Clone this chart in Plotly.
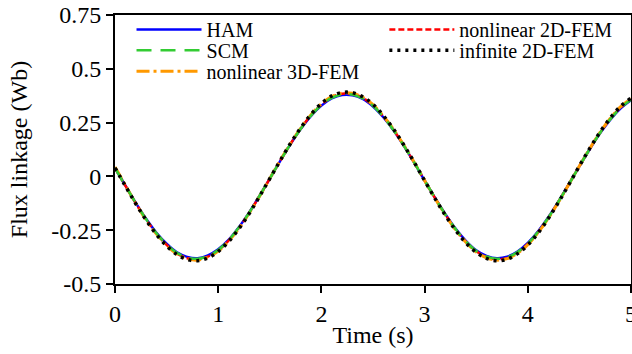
import plotly.graph_objects as go

time_s = [0.0, 0.1, 0.2, 0.3, 0.4, 0.5, 0.6, 0.7, 0.8, 0.9,
          1.0, 1.1, 1.2, 1.3, 1.4, 1.5, 1.6, 1.7, 1.8, 1.9,
          2.0, 2.1, 2.2, 2.3, 2.4, 2.5, 2.6, 2.7, 2.8, 2.9,
          3.0, 3.1, 3.2, 3.3, 3.4, 3.5, 3.6, 3.7, 3.8, 3.9,
          4.0, 4.1, 4.2, 4.3, 4.4, 4.5, 4.6, 4.7, 4.8, 4.9, 5.0]

ham = [0.038, -0.042, -0.122, -0.196, -0.261, -0.313, -0.353, -0.374, -0.380, -0.367,
       -0.339, -0.295, -0.236, -0.167, -0.091, -0.010, 0.071, 0.149, 0.220, 0.281,
       0.329, 0.362, 0.378, 0.377, 0.360, 0.325, 0.275, 0.213, 0.141, 0.063,
       -0.019, -0.099, -0.174, -0.242, -0.299, -0.343, -0.369, -0.380, -0.373, -0.349,
       -0.309, -0.255, -0.189, -0.114, -0.034, 0.047, 0.126, 0.200, 0.264, 0.316, 0.354]

scm = [0.039, -0.043, -0.123, -0.198, -0.263, -0.316, -0.355, -0.377, -0.383, -0.370,
       -0.342, -0.297, -0.238, -0.169, -0.091, -0.010, 0.071, 0.150, 0.221, 0.283,
       0.332, 0.365, 0.381, 0.380, 0.362, 0.328, 0.277, 0.214, 0.142, 0.064,
       -0.019, -0.099, -0.176, -0.244, -0.302, -0.346, -0.372, -0.383, -0.376, -0.352,
       -0.312, -0.257, -0.191, -0.115, -0.035, 0.048, 0.127, 0.202, 0.266, 0.319, 0.356]

fem3d_nonlinear = [0.044, -0.040, -0.124, -0.201, -0.267, -0.321, -0.361, -0.383, -0.389, -0.376,
                   -0.347, -0.301, -0.242, -0.171, -0.093, -0.010, 0.073, 0.152, 0.225, 0.287,
                   0.337, 0.371, 0.387, 0.386, 0.368, 0.333, 0.281, 0.218, 0.144, 0.065,
                   -0.019, -0.101, -0.178, -0.248, -0.306, -0.351, -0.378, -0.389, -0.382, -0.357,
                   -0.317, -0.261, -0.194, -0.117, -0.035, 0.048, 0.129, 0.205, 0.270, 0.324, 0.362]

fem2d_nonlinear = [0.039, -0.043, -0.124, -0.199, -0.265, -0.318, -0.358, -0.380, -0.386, -0.373,
                   -0.344, -0.299, -0.240, -0.170, -0.092, -0.010, 0.072, 0.151, 0.223, 0.285,
                   0.334, 0.368, 0.384, 0.383, 0.365, 0.330, 0.279, 0.216, 0.143, 0.064,
                   -0.019, -0.100, -0.177, -0.246, -0.304, -0.348, -0.375, -0.386, -0.379, -0.354,
                   -0.314, -0.259, -0.192, -0.116, -0.035, 0.048, 0.128, 0.203, 0.268, 0.321, 0.359]

fem2d_infinite = [0.040, -0.044, -0.126, -0.202, -0.269, -0.323, -0.363, -0.386, -0.392, -0.379,
                  -0.349, -0.303, -0.244, -0.173, -0.093, -0.010, 0.073, 0.153, 0.226, 0.289,
                  0.339, 0.374, 0.390, 0.389, 0.370, 0.335, 0.283, 0.219, 0.145, 0.065,
                  -0.019, -0.102, -0.180, -0.250, -0.309, -0.353, -0.381, -0.392, -0.385, -0.359,
                  -0.319, -0.263, -0.195, -0.118, -0.036, 0.049, 0.130, 0.206, 0.272, 0.326, 0.364]

y_tickvals = [-0.5, -0.25, 0, 0.25, 0.5, 0.75]
y_ticktext = ["-0.5", "-0.25", "0", "0.25", "0.5", "0.75"]
x_tickvals = [0, 1, 2, 3, 4, 5]
x_ticktext = ["0", "1", "2", "3", "4", "5"]

FONT = "Liberation Serif"
TICKFONT = dict(family=FONT, size=24, color="black")
TITLEFONT = dict(family=FONT, size=24, color="black")
LEGFONT = dict(family=FONT, size=20, color="black")

fig = go.Figure()

# drawing order (bottom -> top); each legend entry has its own legend box
fig.add_trace(go.Scatter(x=time_s, y=ham, name="HAM", mode="lines", line_shape="spline",
                         line=dict(color="#0000ff", width=2.5), legend="legend"))
fig.add_trace(go.Scatter(x=time_s, y=fem2d_nonlinear, name="nonlinear 2D-FEM", mode="lines",
                         line_shape="spline",
                         line=dict(color="#ff0000", width=2.5, dash="6px,3px"),
                         legend="legend4"))
fig.add_trace(go.Scatter(x=time_s, y=fem3d_nonlinear, name="nonlinear 3D-FEM", mode="lines",
                         line_shape="spline",
                         line=dict(color="#ff9900", width=3, dash="13px,4px,3px,4px"),
                         legend="legend3"))
fig.add_trace(go.Scatter(x=time_s, y=scm, name="SCM", mode="lines", line_shape="spline",
                         line=dict(color="#33cc33", width=2.5, dash="15px,9px"),
                         legend="legend2"))
fig.add_trace(go.Scatter(x=time_s, y=fem2d_infinite, name="infinite 2D-FEM", mode="lines",
                         line_shape="spline",
                         line=dict(color="#000000", width=3.5, dash="3px,5px"),
                         legend="legend5"))

axis_common = dict(showgrid=False, zeroline=False, showline=True, linecolor="black",
                   linewidth=2, mirror=True, ticks="outside", ticklen=7, tickwidth=2,
                   tickcolor="black", automargin=False, tickfont=TICKFONT,
                   ticklabeloverflow="allow")


def leg(x, y):
    return dict(x=x, y=y, xanchor="left", yanchor="top", bgcolor="rgba(0,0,0,0)",
                font=LEGFONT, itemwidth=65, borderwidth=0)


fig.update_layout(
    template="none",
    width=632, height=354,
    margin=dict(l=115, r=1, t=15, b=70, autoexpand=False),
    paper_bgcolor="white", plot_bgcolor="white",
    font=dict(family=FONT, color="black", size=20),
    xaxis=dict(range=[0, 5], tickmode="array", tickvals=x_tickvals, ticktext=x_ticktext,
               title=dict(text="Time (s)", font=TITLEFONT, standoff=0),
               **axis_common),
    yaxis=dict(range=[-0.5, 0.75], tickmode="array", tickvals=y_tickvals, ticktext=y_ticktext,
               title=dict(text="Flux linkage (Wb)", font=TITLEFONT, standoff=17),
               **axis_common),
    legend=leg(0.032, 1.019),
    legend2=leg(0.032, 0.941),
    legend3=leg(0.032, 0.863),
    legend4=leg(0.522, 1.019),
    legend5=leg(0.522, 0.941),
    showlegend=True,
)

fig.write_html("out.html", config={"displayModeBar": False},
               post_script="document.body.style.margin='0';document.body.style.overflow='hidden';")
